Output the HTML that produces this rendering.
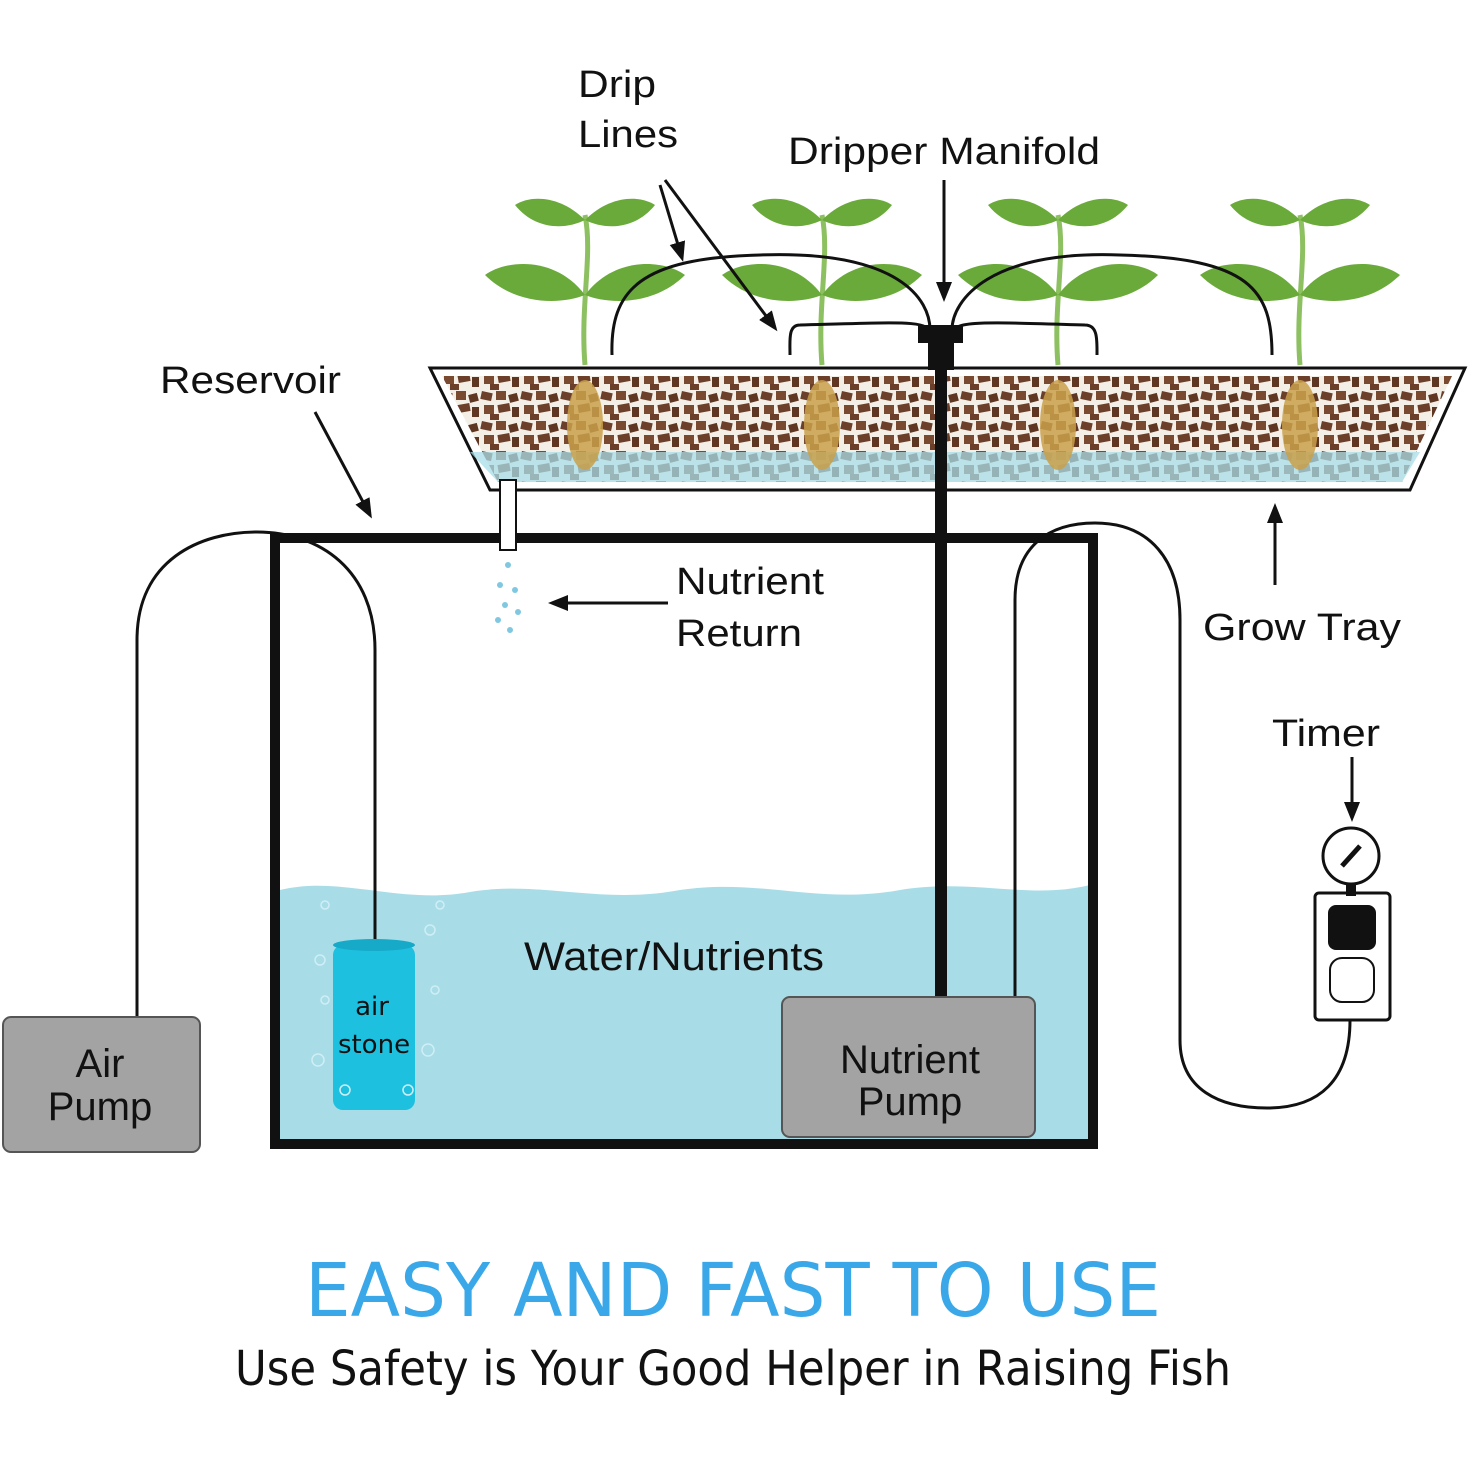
<!DOCTYPE html>
<html><head><meta charset="utf-8"><style>
html,body{margin:0;padding:0;background:#fff}
svg{display:block}
.t{font-family:"Liberation Sans",sans-serif;fill:#111}
</style></head><body>
<svg width="1468" height="1468" viewBox="0 0 1468 1468" xmlns="http://www.w3.org/2000/svg">
<defs>
<marker id="ah" markerWidth="20" markerHeight="20" refX="16" refY="10" orient="auto" markerUnits="userSpaceOnUse" viewBox="0 0 20 20">
<path d="M0,2 L20,10 L0,18 z" fill="#111"/></marker>
<pattern id="grav" width="40" height="30" patternUnits="userSpaceOnUse">
<rect width="40" height="30" fill="#f4efe6"/>
<rect x="1" y="2" width="11" height="8" fill="#6b3f2a" transform="rotate(12 6 6)"/>
<rect x="16" y="1" width="10" height="9" fill="#7a4a30"/>
<rect x="29" y="4" width="9" height="8" fill="#5e3622" transform="rotate(-15 33 8)"/>
<rect x="4" y="15" width="10" height="9" fill="#7a4a30"/>
<rect x="18" y="14" width="12" height="8" fill="#6b3f2a" transform="rotate(-10 24 18)"/>
<rect x="32" y="17" width="7" height="10" fill="#5e3622"/>
<rect x="10" y="24" width="9" height="6" fill="#6b3f2a"/>
</pattern>
</defs>

<path d="M280,890 C340,875 400,905 470,892 C540,880 600,905 680,890 C760,878 820,905 900,890 C970,878 1030,900 1090,885 L1090,1142 L280,1142 Z" fill="#a8dde8"/>
<rect x="275" y="538" width="818" height="606" fill="none" stroke="#111" stroke-width="10"/>

<path d="M430,368 L1465,368 L1410,490 L490,490 Z" fill="#fff" stroke="#111" stroke-width="3"/>
<path d="M442,376 L1452,376 L1402,482 L498,482 Z" fill="url(#grav)"/>
<path d="M470,452 L1420,452 L1402,482 L498,482 Z" fill="#a8dde8" opacity="0.75"/>
<g fill="#c9a04a" opacity="0.85">
<ellipse cx="585" cy="425" rx="18" ry="45"/><ellipse cx="822" cy="425" rx="18" ry="45"/>
<ellipse cx="1058" cy="425" rx="18" ry="45"/><ellipse cx="1300" cy="425" rx="18" ry="45"/>
</g>

<rect x="500" y="480" width="16" height="70" fill="#fff" stroke="#111" stroke-width="2"/>
<g fill="#7fc8e0"><circle cx="508" cy="565" r="3"/><circle cx="500" cy="585" r="3"/><circle cx="515" cy="590" r="3"/><circle cx="505" cy="605" r="3"/><circle cx="518" cy="612" r="3"/><circle cx="498" cy="620" r="3"/><circle cx="510" cy="630" r="3"/></g>

<g id="pl">
<path d="M0,0 C-5,-60 8,-110 0,-150" stroke="#8cc060" stroke-width="5" fill="none"/>
<path d="M0,-70 C-30,-110 -80,-105 -100,-90 C-70,-60 -25,-60 0,-70Z" fill="#6aaa3a"/>
<path d="M0,-70 C30,-110 80,-105 100,-90 C70,-60 25,-60 0,-70Z" fill="#6aaa3a"/>
<path d="M0,-145 C-25,-170 -55,-170 -70,-160 C-50,-135 -20,-135 0,-145Z" fill="#6aaa3a"/>
<path d="M0,-145 C25,-170 55,-170 70,-160 C50,-135 20,-135 0,-145Z" fill="#6aaa3a"/>
</g>
<use href="#pl" x="585" y="365"/><use href="#pl" x="822" y="365"/><use href="#pl" x="1058" y="365"/><use href="#pl" x="1300" y="365"/>

<g fill="none" stroke="#111" stroke-width="3">
<path d="M930,330 C930,300 900,250 760,255 C640,258 610,290 612,355"/>
<path d="M930,335 C930,320 910,322 800,325 C788,325 790,340 790,355"/>
<path d="M952,330 C952,300 990,250 1120,255 C1250,258 1272,290 1272,355"/>
<path d="M952,335 C952,320 980,322 1085,325 C1098,325 1097,340 1097,355"/>
</g>
<rect x="935" y="340" width="12" height="660" fill="#111"/>
<rect x="918" y="325" width="45" height="18" fill="#111"/>
<rect x="928" y="340" width="26" height="30" fill="#111"/>

<path d="M137,1020 L137,640 C137,560 200,532 257,532 C320,532 375,570 375,650 L375,945" fill="none" stroke="#111" stroke-width="3"/>
<path d="M1015,1000 L1015,600 C1015,545 1050,523 1095,523 C1150,523 1180,560 1180,620 L1180,1040 C1180,1090 1220,1108 1267,1108 C1320,1108 1350,1080 1350,1020" fill="none" stroke="#111" stroke-width="3"/>

<rect x="333" y="945" width="82" height="165" rx="10" fill="#1ec0e0"/>
<ellipse cx="374" cy="945" rx="41" ry="6" fill="#17a9c8"/>
<g fill="none" stroke="#cfeef5" stroke-width="1.5">
<circle cx="320" cy="960" r="5"/><circle cx="325" cy="1000" r="4"/><circle cx="318" cy="1060" r="6"/><circle cx="430" cy="930" r="5"/><circle cx="435" cy="990" r="4"/><circle cx="428" cy="1050" r="6"/><circle cx="325" cy="905" r="4"/><circle cx="440" cy="905" r="4"/><circle cx="408" cy="1090" r="5"/><circle cx="345" cy="1090" r="5"/>
</g>
<text x="372" y="1015" class="t" font-size="26" text-anchor="middle" style="font-family:'DejaVu Sans',sans-serif">air</text>
<text x="374" y="1053" class="t" font-size="26" text-anchor="middle" style="font-family:'DejaVu Sans',sans-serif">stone</text>

<rect x="3" y="1017" width="197" height="135" rx="8" fill="#a3a3a3" stroke="#555" stroke-width="2"/>
<text x="100" y="1077" class="t" font-size="40" text-anchor="middle">Air</text>
<text x="100" y="1120" class="t" font-size="40" text-anchor="middle">Pump</text>
<rect x="782" y="997" width="253" height="140" rx="8" fill="#a3a3a3" stroke="#555" stroke-width="2"/>
<text x="910" y="1073" class="t" font-size="40" text-anchor="middle">Nutrient</text>
<text x="910" y="1115" class="t" font-size="40" text-anchor="middle">Pump</text>

<rect x="1315" y="893" width="75" height="127" rx="4" fill="#fff" stroke="#111" stroke-width="3"/>
<circle cx="1351" cy="856" r="28" fill="#fff" stroke="#111" stroke-width="3"/>
<path d="M1342,866 L1360,846" stroke="#111" stroke-width="5"/>
<rect x="1346" y="884" width="10" height="12" fill="#111"/>
<rect x="1328" y="905" width="48" height="45" rx="8" fill="#111"/>
<rect x="1330" y="958" width="44" height="44" rx="12" fill="#fff" stroke="#111" stroke-width="2"/>

<g stroke="#111" stroke-width="3" fill="none" marker-end="url(#ah)">
<path d="M660,185 L682,258"/>
<path d="M665,180 L775,328"/>
<path d="M944,180 L944,298"/>
<path d="M315,412 L370,515"/>
<path d="M668,603 L552,603"/>
<path d="M1275,585 L1275,507"/>
<path d="M1352,757 L1352,818"/>
</g>
<text x="578" y="97" class="t" font-size="38" textLength="78" lengthAdjust="spacingAndGlyphs">Drip</text>
<text x="578" y="147" class="t" font-size="38" textLength="100" lengthAdjust="spacingAndGlyphs">Lines</text>
<text x="788" y="164" class="t" font-size="38" textLength="312" lengthAdjust="spacingAndGlyphs">Dripper Manifold</text>
<text x="160" y="393" class="t" font-size="38" textLength="181" lengthAdjust="spacingAndGlyphs">Reservoir</text>
<text x="676" y="594" class="t" font-size="38" textLength="148" lengthAdjust="spacingAndGlyphs">Nutrient</text>
<text x="676" y="646" class="t" font-size="38" textLength="126" lengthAdjust="spacingAndGlyphs">Return</text>
<text x="1203" y="640" class="t" font-size="38" textLength="198" lengthAdjust="spacingAndGlyphs">Grow Tray</text>
<text x="1272" y="746" class="t" font-size="38" textLength="108" lengthAdjust="spacingAndGlyphs">Timer</text>
<text x="524" y="970" class="t" font-size="40" textLength="300" lengthAdjust="spacingAndGlyphs">Water/Nutrients</text>

<text x="733" y="1316" font-family="'DejaVu Sans',sans-serif" font-size="74" fill="#3aa8e8" text-anchor="middle" textLength="856" lengthAdjust="spacingAndGlyphs">EASY AND FAST TO USE</text>
<text x="733" y="1385" font-family="'DejaVu Sans',sans-serif" font-size="48" fill="#111" text-anchor="middle" textLength="996" lengthAdjust="spacingAndGlyphs">Use Safety is Your Good Helper in Raising Fish</text>
</svg>
</body></html>
